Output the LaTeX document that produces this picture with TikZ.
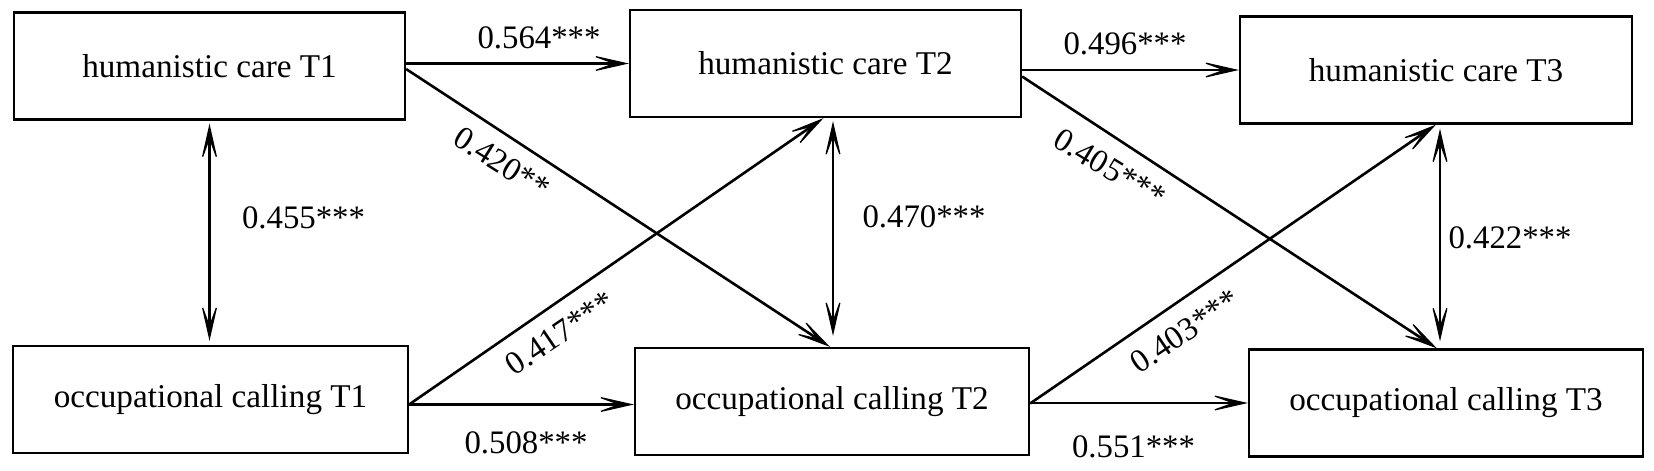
\documentclass[tikz,border=0pt]{standalone}
\usepackage{fontspec}
\setmainfont{Liberation Serif}
\usetikzlibrary{arrows.meta,calc}
\begin{document}
\begin{tikzpicture}[x=0.5pt,y=-0.5pt,
  box/.style={draw, line width=1.1pt, rectangle, inner sep=0pt, minimum height=53.5pt,
    font=\fontsize{16.6}{19}\selectfont},
  tip/.tip={Stealth[length=21pt,width=9.5pt,inset=13pt,line width=0.6pt]},
  conn/.style={line width=1.3pt, -tip},
  dbl/.style={line width=1.2pt, tip-tip},
  lab/.style={font=\fontsize{16.4}{19}\selectfont, inner sep=0pt}]
\fill[white] (0,0) rectangle (1654,471);
\useasboundingbox (0,0) rectangle (1654,471);

% boxes
\node[box, minimum width=195.5pt] (h1) at (209.5,66) {humanistic care T1};
\node[box, minimum width=197.5pt] (o1) at (210.5,399.5) {occupational calling T1};
\node[box, minimum width=195.5pt] (h2) at (825.5,63.5) {humanistic care T2};
\node[box, minimum width=197pt] (o2) at (832,401.5) {occupational calling T2};
\node[box, minimum width=196pt] (h3) at (1436,70) {humanistic care T3};
\node[box, minimum width=197pt] (o3) at (1446,403) {occupational calling T3};

% vertical guide coordinates
\coordinate (v2) at (833,0);
\coordinate (v3) at (1440,0);

% horizontal paths
\draw[conn] (h1.east |- h2.west) -- (h2.west);
\draw[conn] (h2.east |- h3.west) -- (h3.west);
\draw[conn] ([yshift=-2.5pt]o1.east) -- ([yshift=-2.5pt]o1.east -| o2.west);
\draw[conn] (o2.east |- o3.west) -- (o3.west);

% cross-lagged paths
\draw[conn] ([yshift=-1.5pt]h1.east) -- ([xshift=-1pt]o2.north);
\draw[conn] ([yshift=-2.5pt]o1.east) -- ([xshift=-1pt]h2.south);
\draw[conn] ([yshift=-6.5pt]h2.east) -- ([xshift=-4.5pt]o3.north);
\draw[conn] ([yshift=-1pt]o2.east) -- (h3.south);

% correlations
\draw[dbl, shorten <=1.5pt, shorten >=2pt] (h1.south) -- (h1.south |- o1.north);
\draw[dbl, shorten <=1.5pt, shorten >=5.5pt] (h2.south -| v2) -- (o2.north -| v2);
\draw[dbl, shorten <=2pt, shorten >=3.5pt] (h3.south -| v3) -- (o3.north -| v3);

% labels
\node[lab] (l564) at (539,38) {0.564***};
\node[lab] (l496) at (1125,44) {0.496***};
\node[lab] (l455) at (303.5,218) {0.455***};
\node[lab] (l470) at (924,217) {0.470***};
\node[lab] (l422) at (1510,238) {0.422***};
\node[lab] (l508) at (526,443) {0.508***};
\node[lab] (l551) at (1133.5,447) {0.551***};
\node[lab, rotate=-32] (l420) at (502,163) {0.420**};
\node[lab, rotate=-31] (l405) at (1110,168) {0.405***};
\node[lab, rotate=34] (l417) at (560,333) {0.417***};
\node[lab, rotate=34] (l403) at (1185,331) {0.403***};
\end{tikzpicture}
\end{document}
